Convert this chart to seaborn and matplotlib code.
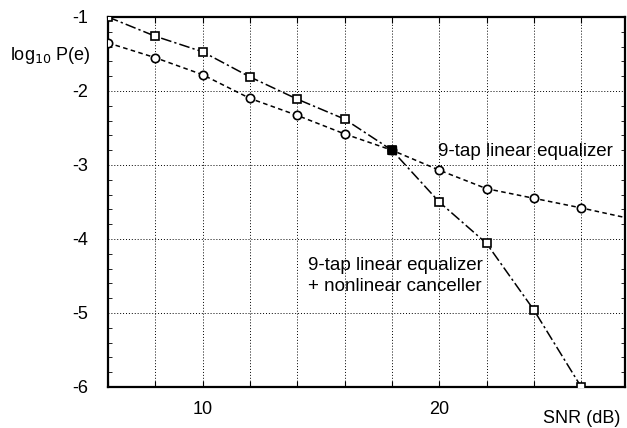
import matplotlib
matplotlib.use("Agg")
import matplotlib.pyplot as plt
import seaborn as sns
import pandas as pd
from matplotlib.ticker import MultipleLocator, FuncFormatter

snr_canc = [6, 8, 10, 12, 14, 16, 18, 20, 22, 24, 26]
pe_canc = [-1.0, -1.26, -1.47, -1.81, -2.11, -2.38, -2.80, -3.50, -4.06, -4.96, -6.0]
snr_lin = [6, 8, 10, 12, 14, 16, 18, 20, 22, 24, 26, 28]
pe_lin = [-1.35, -1.55, -1.78, -2.10, -2.33, -2.58, -2.80, -3.07, -3.32, -3.45, -3.58, -3.72]
x_labelled = [10, 20]
y_ticks = [-1, -2, -3, -4, -5, -6]

sns.set_style("white")
plt.rcParams['font.family'] = ['Liberation Sans', 'DejaVu Sans']
plt.rcParams['text.color'] = 'black'
plt.rcParams['xtick.color'] = 'black'
plt.rcParams['ytick.color'] = 'black'
plt.rcParams['xtick.labelcolor'] = 'black'
plt.rcParams['ytick.labelcolor'] = 'black'

fig = plt.figure(figsize=(6.27, 4.28), dpi=100)
ax = fig.add_axes([0.1722, 0.0958, 0.8246, 0.8645])

df_c = pd.DataFrame({"snr": snr_canc, "pe": pe_canc})
df_l = pd.DataFrame({"snr": snr_lin, "pe": pe_lin})

sns.lineplot(data=df_l, x="snr", y="pe", ax=ax, color="black", lw=1.1,
             marker="o", markersize=6, markerfacecolor="white",
             markeredgecolor="black", markeredgewidth=1.2, zorder=3)
ax.lines[-1].set_dashes([3, 2.2])
sns.lineplot(data=df_c, x="snr", y="pe", ax=ax, color="black", lw=1.1,
             marker="s", markersize=6, markerfacecolor="white",
             markeredgecolor="black", markeredgewidth=1.2, zorder=4)
ax.lines[-1].set_dashes([7, 2, 1.5, 2])
# filled marker at coincident point
ax.plot([snr_canc[6]], [pe_canc[6]], marker="s", markersize=6, color="black", zorder=5, ls="none")

ax.set_xlim(6, 27.85)
ax.set_ylim(-6, -1)

ax.xaxis.set_major_locator(MultipleLocator(2))
ax.xaxis.set_major_formatter(FuncFormatter(
    lambda v, p: str(int(round(v))) if int(round(v)) in x_labelled else ""))
ax.set_yticks(y_ticks, labels=[str(v) for v in y_ticks])
ax.yaxis.set_minor_locator(MultipleLocator(0.2))

ax.grid(True, which="major", color="black", ls=(0, (1, 2)), lw=0.7)
ax.tick_params(axis="x", which="major", length=4, direction="in", top=True, bottom=True,
               labelsize=13, pad=10, colors="black")
ax.tick_params(axis="y", which="major", length=0, labelsize=13, pad=14, colors="black")
ax.tick_params(axis="y", which="minor", length=3, direction="in", left=True, right=True,
               colors="black")

for s in ax.spines.values():
    s.set_color("black")
    s.set_linewidth(1.6)

ax.set_xlabel("")
ax.set_ylabel("")
fig.text(0.016, 0.87, r"log$_{10}$ P(e)", fontsize=13, ha="left", va="center", color="black")
fig.text(0.99, 0.023, "SNR (dB)", fontsize=13, ha="right", va="center", color="black")
ax.text(19.95, -2.82, "9-tap linear equalizer", fontsize=13.5, ha="left", va="center",
        color="black")
ax.text(14.45, -4.5, "9-tap linear equalizer\n+ nonlinear canceller", fontsize=13.5,
        ha="left", va="center", linespacing=1.25, color="black")

fig.savefig("out.png", dpi=100)
